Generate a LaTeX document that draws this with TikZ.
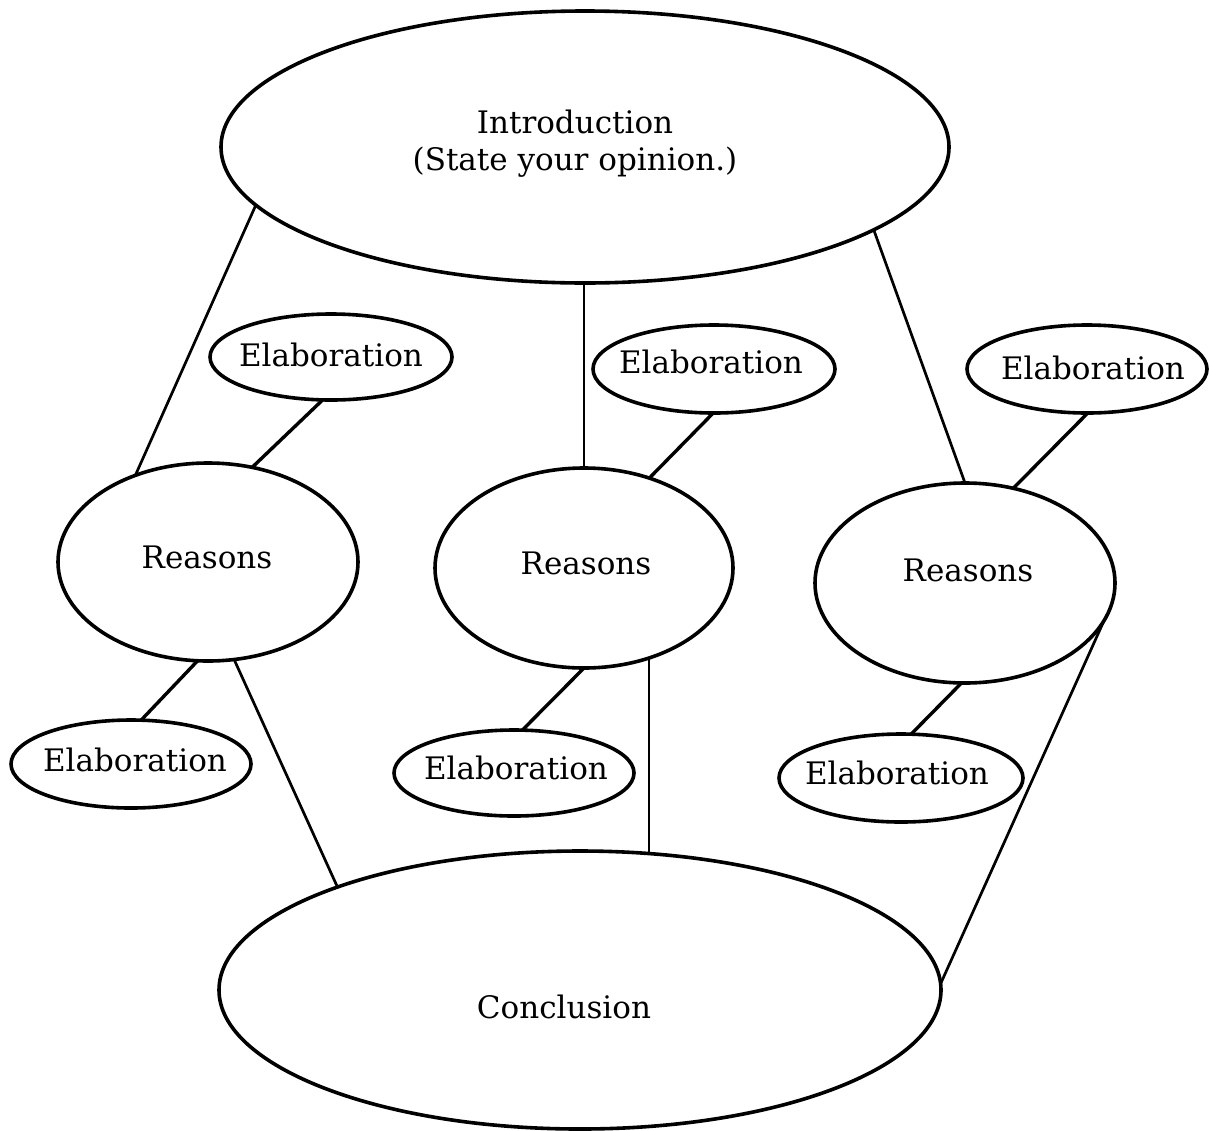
\documentclass[tikz,border=0pt]{standalone}
\usepackage{fontspec}
\setmainfont{DejaVu Serif}
\usetikzlibrary{shapes.geometric}
\begin{document}
\begin{tikzpicture}[x=0.5pt,y=-0.5pt,
  oval/.style={draw, ellipse, line width=1.8pt, inner sep=0pt, outer sep=0pt},
  caption/.style={font=\fontsize{15.5}{18.5}\selectfont, inner sep=0pt, align=center},
  twig/.style={line width=1.7pt},
  link/.style={line width=1.35pt},
  vlink/.style={line width=1.05pt}]
\useasboundingbox (0,0) rectangle (1209,1130);

% main ovals
\node[oval, minimum width=364pt, minimum height=136pt] (intro) at (585,147) {};
\node[oval, minimum width=361pt, minimum height=139pt] (concl) at (580,990) {};
\node[caption] (introtxt) at (575,144) {Introduction\\(State your opinion.)};
\node[caption] (concltxt) at (564,1007) {Conclusion};

% reasons
\node[oval, minimum width=150pt, minimum height=99pt]  (r1) at (208,562) {};
\node[oval, minimum width=149pt, minimum height=100pt] (r2) at (584,568) {};
\node[oval, minimum width=150pt, minimum height=100pt] (r3) at (965,583) {};
\node[caption] (r1txt) at (207,557) {Reasons};
\node[caption] (r2txt) at (586,563) {Reasons};
\node[caption] (r3txt) at (968,570) {Reasons};

% elaborations above
\node[oval, minimum width=121pt, minimum height=43pt] (e1t) at (331,357) {};
\node[oval, minimum width=121pt, minimum height=44pt] (e2t) at (714,369) {};
\node[oval, minimum width=120pt, minimum height=44pt] (e3t) at (1087,369) {};
\node[caption] (e1ttxt) at (331,355) {Elaboration};
\node[caption] (e2ttxt) at (711,362) {Elaboration};
\node[caption] (e3ttxt) at (1093,368) {Elaboration};

% elaborations below
\node[oval, minimum width=120pt, minimum height=44pt] (e1b) at (131,764) {};
\node[oval, minimum width=120pt, minimum height=43pt] (e2b) at (514,773) {};
\node[oval, minimum width=122pt, minimum height=44pt] (e3b) at (901,778) {};
\node[caption] (e1btxt) at (135,760) {Elaboration};
\node[caption] (e2btxt) at (516,768) {Elaboration};
\node[caption] (e3btxt) at (897,773) {Elaboration};

% introduction to reasons
\draw[link] (intro.190.2) -- (r1.130.8);
\draw[vlink] (r2.north) -- (r2.north |- intro.south);
\draw[link] (intro.344.8) -- (r3.90.6);

% elaborations to reasons
\draw[twig] (e1t.259.9) -- (r1.65.1);
\draw[twig] (e2t.269) -- (r2.54.7);
\draw[twig] (e3t.271) -- (r3.63.2);
\draw[twig] (r1.264.8) -- (e1b.77.2);
\draw[twig] (r2.270.5) -- (e2b.79.7);
\draw[twig] (r3.268.3) -- (e3b.77.2);

% reasons to conclusion
\draw[link] (r1.285.3) -- (concl.157.7);
\draw[vlink] (r2.306.7) -- (r2.306.7 |- concl.62.5);
\draw[link] (r3.345.2) -- (concl.1.3);
\end{tikzpicture}
\end{document}
